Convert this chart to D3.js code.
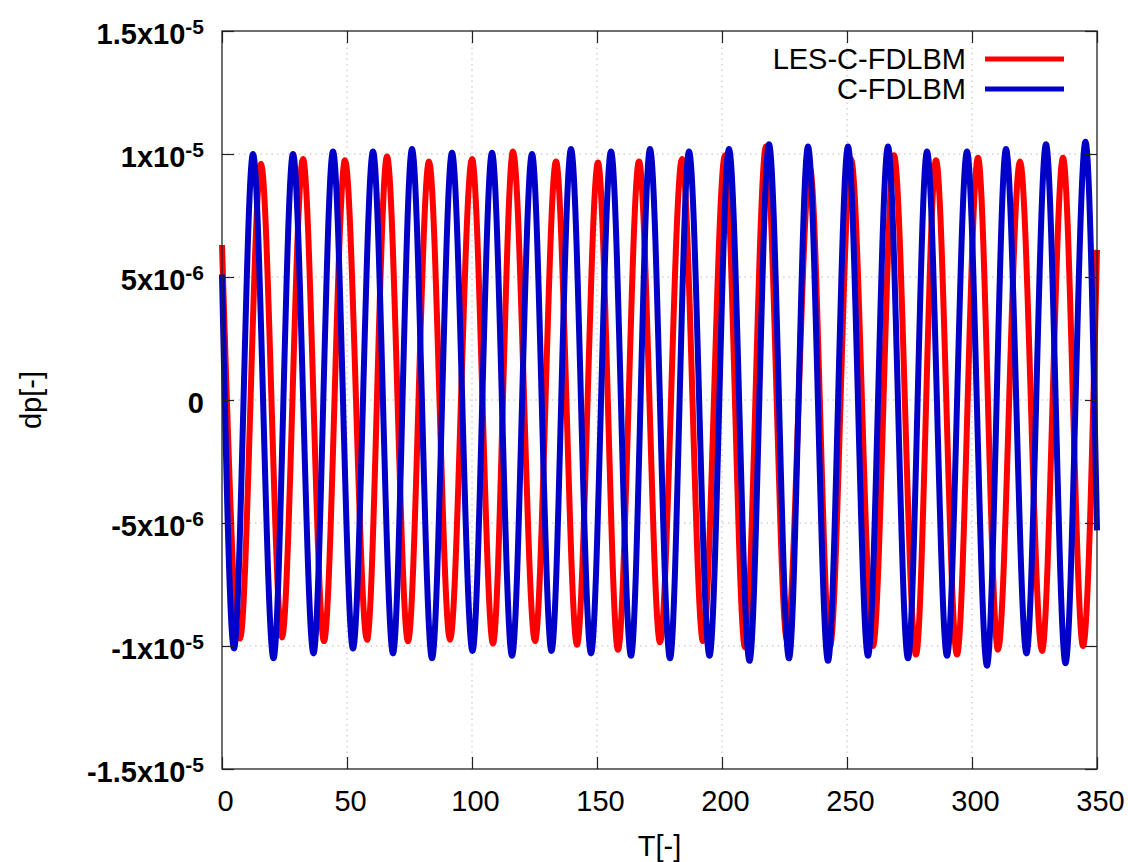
<!DOCTYPE html>
<html>
<head>
<meta charset="utf-8">
<script src="https://cdn.jsdelivr.net/npm/d3@7"></script>
<style>
  body { margin: 0; background: #fff; }
  svg { font-family: "Liberation Sans", Arial, Helvetica, sans-serif; }
</style>
</head>
<body>
<script>
// dp values are in units of 1e-6 (peaks and troughs)
var lesT = [0, 7.2, 15.6, 24.0, 32.4, 40.8, 49.2, 58.0, 66.0, 74.4, 82.8, 91.2, 100.0, 108.4, 116.4,
    125.2, 133.6, 142.0, 150.4, 158.4, 166.8, 175.2, 184.0, 192.4, 201.2, 209.2, 217.6, 226.0, 235.2,
    243.2, 251.6, 260.4, 268.8, 277.6, 285.6, 294.0, 302.4, 310.4, 319.2, 328.0, 336.4, 344.4, 350];
var lesDp = [6.3, -9.7, 9.6, -9.65, 9.8, -9.8, 9.75, -9.75, 9.9, -9.8, 9.7, -9.75, 9.8, -9.9, 10.1,
    -9.8, 9.7, -9.95, 9.65, -10.15, 9.7, -9.85, 9.8, -9.8, 9.95, -10.05, 10.3, -9.75, 9.4,
    -10.0, 9.8, -10.0, 9.95, -10.35, 9.75, -10.35, 9.85, -10.15, 9.7, -10.2, 9.85, -10.0, 6.1];

var cT = [0, 4.8, 12.4, 20.6, 28.4, 36.6, 44.4, 52.4, 60.4, 68.4, 76.0, 84.0, 92.0, 100.2, 108.0,
    116.0, 124.0, 131.8, 139.6, 147.6, 155.6, 163.6, 171.2, 179.2, 186.8, 195.0, 202.8, 211.0, 218.8,
    226.8, 234.4, 242.4, 250.4, 258.4, 266.4, 274.4, 282.0, 290.0, 298.0, 306.0, 313.6, 321.8, 329.6,
    337.4, 345.4, 350];
var cDp = [5.1, -10.1, 10.0, -10.5, 10.0, -10.3, 10.1, -10.1, 10.1, -10.3, 10.2, -10.5, 10.05, -10.2, 10.05,
    -10.4, 10.0, -10.2, 10.2, -10.3, 10.1, -10.4, 10.2, -10.5, 10.1, -10.4, 10.2, -10.6, 10.4,
    -10.5, 10.3, -10.6, 10.3, -10.4, 10.3, -10.5, 10.1, -10.4, 10.1, -10.8, 10.2, -10.3, 10.4,
    -10.7, 10.5, -5.3];

var xTicks = [0, 50, 100, 150, 200, 250, 300, 350];
var yTicks = [-15, -10, -5, 0, 5, 10, 15];
var yTickBase = ["-1.5x10", "-1x10", "-5x10", "0", "5x10", "1x10", "1.5x10"];
var yTickExp = ["-5", "-5", "-6", "", "-6", "-5", "-5"];

var seriesNames = ["LES-C-FDLBM", "C-FDLBM"];
var seriesColors = ["#ff0000", "#0000c8"];

var W = 1128, H = 862;
var plotL = 222, plotR = 1097, plotT = 31, plotB = 769;

var x = d3.scaleLinear().domain([0, 350]).range([plotL, plotR]);
var y = d3.scaleLinear().domain([-15, 15]).range([plotB, plotT]);

var svg = d3.select("body").append("svg")
    .attr("width", W)
    .attr("height", H);

svg.append("rect").attr("width", W).attr("height", H).attr("fill", "#fff");

// dotted grid
var grid = svg.append("g")
    .attr("stroke", "#bbbbbb")
    .attr("stroke-width", 1)
    .attr("stroke-dasharray", "1.5,4");
grid.selectAll(".gx").data(xTicks.slice(1, -1)).enter().append("line")
    .attr("x1", function(d) { return x(d); })
    .attr("x2", function(d) { return x(d); })
    .attr("y1", plotT).attr("y2", plotB);
grid.selectAll(".gy").data(yTicks.slice(1, -1)).enter().append("line")
    .attr("y1", function(d) { return y(d); })
    .attr("y2", function(d) { return y(d); })
    .attr("x1", plotL).attr("x2", plotR);

// the curves, red first so blue lies on top
var line = d3.line()
    .x(function(d) { return x(d[0]); })
    .y(function(d) { return y(d[1]); })
    .curve(d3.curveMonotoneX);

var series = [d3.zip(lesT, lesDp), d3.zip(cT, cDp)];
svg.selectAll(".series").data(series).enter().append("path")
    .attr("class", "series")
    .attr("fill", "none")
    .attr("stroke", function(d, i) { return seriesColors[i]; })
    .attr("stroke-width", 6)
    .attr("stroke-linejoin", "round")
    .attr("d", line);

// axes, ticks pointing inward on all four sides
var xAxis = svg.append("g")
    .attr("transform", "translate(0," + plotB + ")")
    .call(d3.axisBottom(x).tickValues(xTicks).tickSizeInner(-12).tickSizeOuter(0).tickPadding(21));
xAxis.selectAll("text")
    .attr("dx", 3)
    .attr("fill", "#000")
    .style("font-size", "29px");

svg.append("g")
    .attr("transform", "translate(0," + plotT + ")")
    .call(d3.axisTop(x).tickValues(xTicks).tickSizeInner(-12).tickSizeOuter(0).tickFormat(""));

var yAxis = svg.append("g")
    .attr("transform", "translate(" + plotL + ",0)")
    .call(d3.axisLeft(y).tickValues(yTicks).tickSizeInner(-12).tickSizeOuter(0).tickPadding(18).tickFormat(""));

svg.append("g")
    .attr("transform", "translate(" + plotR + ",0)")
    .call(d3.axisRight(y).tickValues(yTicks).tickSizeInner(-12).tickSizeOuter(0).tickFormat(""));

svg.selectAll(".domain").remove();
svg.selectAll(".tick line").attr("stroke", "#222").attr("stroke-width", 1.2);

// y tick labels with superscript exponent
yAxis.selectAll(".tick text").each(function(d, i) {
    var t = d3.select(this)
        .attr("dy", "0.42em")
        .attr("fill", "#000")
        .style("font-size", "29px")
        .style("font-weight", "bold");
    t.append("tspan").text(yTickBase[i]);
    if (yTickExp[i] != "") {
        t.append("tspan")
            .attr("dy", "-0.45em")
            .style("font-size", "21px")
            .text(yTickExp[i]);
    }
});

// border
svg.append("rect")
    .attr("x", plotL).attr("y", plotT)
    .attr("width", plotR - plotL).attr("height", plotB - plotT)
    .attr("fill", "none")
    .attr("stroke", "#222")
    .attr("stroke-width", 1.3);

// axis titles
svg.append("text")
    .attr("x", (plotL + plotR) / 2)
    .attr("y", 856)
    .attr("text-anchor", "middle")
    .style("font-size", "29px")
    .text("T[-]");

svg.append("text")
    .attr("transform", "translate(41,400) rotate(-90)")
    .attr("text-anchor", "middle")
    .style("font-size", "29px")
    .text("dp[-]");

// legend
var legend = svg.selectAll(".legend").data(seriesNames).enter().append("g")
    .attr("class", "legend")
    .attr("transform", function(d, i) { return "translate(0," + (59 + i * 30) + ")"; });
legend.append("text")
    .attr("x", 966)
    .attr("dy", "0.36em")
    .attr("text-anchor", "end")
    .style("font-size", "29px")
    .text(function(d) { return d; });
legend.append("line")
    .attr("x1", 985).attr("x2", 1064)
    .attr("stroke", function(d, i) { return seriesColors[i]; })
    .attr("stroke-width", 5);
</script>
</body>
</html>
